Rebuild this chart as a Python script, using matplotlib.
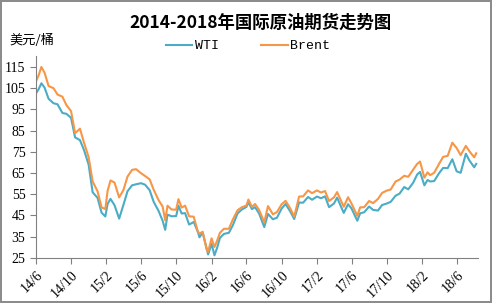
import pandas as pd
import matplotlib.pyplot as plt
import matplotlib.dates as mdates

# prices (USD per barrel)
dates = [
    '2014-06-02', '2014-06-10', '2014-06-20', '2014-07-01', '2014-07-15', '2014-08-01',
    '2014-08-15', '2014-09-01', '2014-09-15', '2014-10-01', '2014-10-15', '2014-11-01',
    '2014-11-15', '2014-12-01', '2014-12-15', '2015-01-01', '2015-01-15', '2015-01-28',
    '2015-02-05', '2015-02-15', '2015-03-01', '2015-03-17', '2015-04-01', '2015-04-15',
    '2015-05-01', '2015-05-15', '2015-06-01', '2015-06-15', '2015-07-01', '2015-07-15',
    '2015-08-01', '2015-08-15', '2015-08-24', '2015-09-01', '2015-09-15', '2015-10-01',
    '2015-10-09', '2015-10-20', '2015-11-01', '2015-11-15', '2015-12-01', '2015-12-15',
    '2015-12-21', '2016-01-01', '2016-01-15', '2016-01-20', '2016-02-01', '2016-02-11',
    '2016-02-20', '2016-03-01', '2016-03-15', '2016-04-01', '2016-04-15', '2016-05-01',
    '2016-05-15', '2016-06-01', '2016-06-08', '2016-06-20', '2016-07-01', '2016-07-15',
    '2016-08-02', '2016-08-15', '2016-09-01', '2016-09-15', '2016-10-01', '2016-10-15',
    '2016-11-01', '2016-11-14', '2016-12-01', '2016-12-15', '2017-01-01', '2017-01-15',
    '2017-02-01', '2017-02-15', '2017-03-01', '2017-03-15', '2017-04-01', '2017-04-12',
    '2017-05-05', '2017-05-20', '2017-06-01', '2017-06-21', '2017-07-01', '2017-07-15',
    '2017-08-01', '2017-08-15', '2017-09-01', '2017-09-15', '2017-10-01', '2017-10-15',
    '2017-11-01', '2017-11-15', '2017-12-01', '2017-12-15', '2018-01-01', '2018-01-15',
    '2018-01-25', '2018-02-09', '2018-02-20', '2018-03-01', '2018-03-15', '2018-04-01',
    '2018-04-15', '2018-05-01', '2018-05-17', '2018-06-01', '2018-06-15', '2018-07-03',
    '2018-07-15', '2018-08-01', '2018-08-08',
]
wti = [
    102.7, 104.4, 107.3, 105.3, 100.0, 97.9,
    97.4, 93.3, 92.9, 91.0, 81.8, 80.5,
    75.8, 69.0, 55.9, 53.3, 46.3, 44.5,
    50.5, 52.8, 49.8, 43.5, 50.0, 56.4,
    59.2, 59.7, 60.2, 59.5, 56.9, 51.4,
    47.1, 42.5, 38.2, 45.4, 44.6, 44.7,
    49.6, 45.9, 46.1, 40.7, 41.9, 37.4,
    34.7, 37.0, 29.4, 26.6, 31.6, 26.2,
    29.6, 34.4, 36.3, 36.8, 40.4, 45.9,
    47.7, 49.0, 51.2, 48.0, 48.9, 45.9,
    39.5, 45.7, 43.2, 43.9, 48.2, 50.4,
    46.7, 43.3, 51.1, 51.0, 53.7, 52.4,
    53.9, 53.1, 54.0, 48.9, 50.6, 53.4,
    46.2, 50.3, 48.3, 42.5, 46.0, 46.5,
    49.2, 47.6, 47.3, 49.9, 50.6, 51.4,
    54.3, 55.3, 58.4, 57.3, 60.4, 64.3,
    65.5, 59.2, 61.7, 61.0, 61.2, 64.9,
    67.4, 67.3, 71.5, 65.8, 65.1, 74.1,
    71.0, 67.7, 69.3,
]
brent = [
    108.5, 110.9, 115.0, 112.3, 106.0, 105.0,
    102.0, 101.0, 97.0, 94.2, 83.8, 85.9,
    79.3, 72.5, 61.0, 56.4, 48.8, 48.0,
    56.6, 61.5, 60.5, 53.5, 57.0, 63.3,
    66.5, 66.8, 64.9, 63.6, 62.0, 57.1,
    52.2, 49.2, 42.7, 49.6, 47.8, 47.7,
    52.7, 48.7, 49.6, 44.6, 44.4, 37.5,
    36.4, 37.3, 28.9, 27.9, 34.2, 30.1,
    33.0, 36.8, 38.7, 38.7, 43.1, 47.4,
    48.8, 49.7, 52.5, 49.0, 50.4, 47.6,
    41.8, 49.4, 45.5, 46.6, 50.2, 51.9,
    48.1, 44.4, 53.9, 54.0, 56.8, 55.5,
    56.8, 55.8, 56.5, 51.8, 53.5, 56.0,
    49.1, 53.6, 50.6, 44.8, 48.8, 48.9,
    51.8, 50.8, 52.8, 55.6, 56.7, 57.2,
    61.0, 61.9, 63.7, 63.2, 66.6, 69.3,
    70.4, 62.8, 65.3, 64.0, 65.1, 69.3,
    72.6, 73.1, 79.3, 76.8, 73.4, 77.8,
    75.3, 72.4, 74.3,
]

tick_dates = ['2014-06-01', '2014-10-01', '2015-02-01', '2015-06-01', '2015-10-01',
              '2016-02-01', '2016-06-01', '2016-10-01', '2017-02-01', '2017-06-01',
              '2017-10-01', '2018-02-01', '2018-06-01']
tick_labels = ['14/6', '14/10', '15/2', '15/6', '15/10', '16/2', '16/6', '16/10',
               '17/2', '17/6', '17/10', '18/2', '18/6']

df = pd.DataFrame({'date': pd.to_datetime(dates), 'WTI': wti, 'Brent': brent})

cjk = ['Noto Sans CJK SC', 'DejaVu Sans']
num_font = 'Liberation Serif'

fig = plt.figure(figsize=(4.92, 3.03), dpi=100)
fig.patch.set_edgecolor('#8c8c8c')
fig.patch.set_linewidth(1.5)
ax = fig.add_axes([0.073, 0.149, 0.899, 0.665])

ax.plot(df['date'], df['WTI'], color='#4bacc6', lw=1.5, label='WTI')
ax.plot(df['date'], df['Brent'], color='#f79646', lw=1.5, label='Brent')

ax.set_ylim(25, 120)
ax.set_yticks(range(25, 116, 10))
ax.set_xlim(pd.Timestamp('2014-06-01'), pd.Timestamp('2018-08-15'))
ax.set_xticks(pd.to_datetime(tick_dates))
ax.set_xticklabels(tick_labels, rotation=45, ha='right', rotation_mode='anchor')

for s in ['top', 'right']:
    ax.spines[s].set_visible(False)
for s in ['left', 'bottom']:
    ax.spines[s].set_color('#808080')
ax.tick_params(axis='both', colors='#808080', labelcolor='black', length=4,
               labelsize=10)
for lab in ax.get_xticklabels() + ax.get_yticklabels():
    lab.set_family(num_font)

fig.text(0.53, 0.925, '2014-2018年国际原油期货走势图', ha='center', va='center',
         fontsize=12.5, fontweight='bold', family=cjk)
fig.text(0.02, 0.868, '美元/桶', ha='left', va='center', fontsize=9.5, family=cjk)

fig.legend(loc='center', bbox_to_anchor=(248 / 492, 1 - 46 / 303), ncol=2,
           frameon=False, handlelength=2.0, columnspacing=3.2, handletextpad=0.2,
           prop={'family': 'Liberation Mono', 'size': 9.5})

fig.savefig('out.png', dpi=100, edgecolor=fig.get_edgecolor())
